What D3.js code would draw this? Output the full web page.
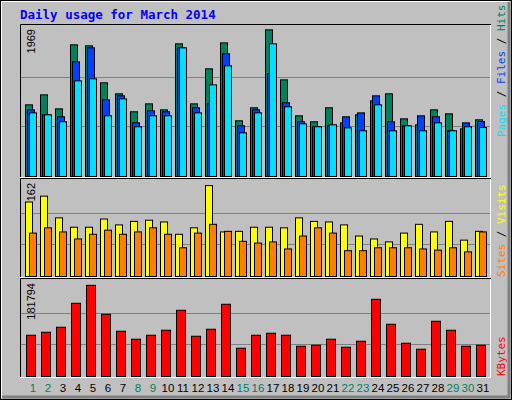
<!DOCTYPE html>
<html><head><meta charset="utf-8">
<script src="https://cdn.jsdelivr.net/npm/d3@7"></script>
<style>body{margin:0;background:#fff}svg{display:block}</style>
</head><body>
<svg id="c" width="512" height="400"></svg>
<script>
const days = d3.range(1, 32);
const weekend = [1,2,8,9,15,16,22,23,29,30];
const hits  = [947,1079,894,1740,1727,1238,1093,855,960,881,1753,960,1423,1766,736,908,1938,1277,802,723,908,709,815,1000,1093,762,683,881,828,630,749];
const files = [881,815,789,1515,1700,1013,1066,709,868,855,1700,908,960,1621,670,881,1357,974,723,657,670,789,841,1066,723,670,802,789,604,709,727];
const pages = [841,815,723,1264,1291,802,1026,657,802,802,1700,841,1211,1462,577,841,1753,921,696,657,683,643,604,947,604,670,604,709,604,657,647];
const visits= [127,137,100,84,84,98,88,94,96,93,72,83,155,76,77,84,84,83,100,94,93,88,69,64,59,74,89,76,94,62,77];
const sites = [74,83,76,64,72,79,72,76,83,72,49,74,89,77,60,57,59,47,69,83,74,44,44,49,49,49,47,45,49,42,76];
const kbytes= [78963,84694,94246,140096,174483,119082,86605,71322,78963,88515,126723,77053,90426,138186,54128,78963,82784,78963,57949,59859,71322,56038,67501,147738,99978,63680,52218,105709,88515,57949,59859];
const maxHits = 1969, maxVisits = 162, maxK = 181794;

const svg = d3.select("#c");
svg.append("rect").attr("x",0).attr("y",0).attr("width",512).attr("height",400).attr("fill","#C0C0C0");
svg.append("rect").attr("x",0.5).attr("y",0.5).attr("width",511).attr("height",399).attr("fill","none").attr("stroke","#000");
svg.append("path").attr("d","M1.5,398V1.5H509").attr("stroke","#fff").attr("fill","none");
svg.append("path").attr("d","M509,2V397H2").attr("stroke","#808080").attr("stroke-width",3).attr("fill","none");

svg.append("text").attr("x",20).attr("y",19).attr("fill","#0000FF").attr("font-family","DejaVu Sans Mono, monospace")
  .attr("font-weight","bold").attr("font-size",12.5).text("Daily usage for March 2014");

const x = d3.scaleLinear().domain([1,32]).range([25,490]);
const mono = "DejaVu Sans Mono, monospace";

function panel(top, bottom, max, label) {
  const y = d3.scaleLinear().domain([0,max]).range([bottom, top]);
  const g = svg.append("g");
  [max/3, 2*max/3].forEach(v => g.append("line").attr("x1",21).attr("x2",490).attr("y1",Math.round(y(v))+0.5).attr("y2",Math.round(y(v))+0.5).attr("stroke","#808080"));
  g.append("path").attr("d",`M20.5,${bottom+1}V${top-2.5}H491`).attr("stroke","#000").attr("fill","none");
  g.append("path").attr("d",`M490.5,${top-2}V${bottom+1.5}H20`).attr("stroke","#fff").attr("fill","none");
  svg.append("text").attr("transform",`translate(35,${top+2}) rotate(-90)`).attr("text-anchor","end")
    .attr("font-family","Liberation Sans, Arial, sans-serif").attr("font-size",11).text(label);
  return y;
}
function bars(y, data, off, w, color) {
  svg.append("g").selectAll("rect").data(data).join("rect")
    .attr("x",(d,i)=>x(days[i])+off+0.5).attr("y",d=>y(d)+0.5).attr("width",w).attr("height",d=>y(0)-y(d))
    .attr("fill",color).attr("stroke","#000");
}
const y1 = panel(27, 176, maxHits, "1969");
bars(y1, hits, 0, 7, "#00805C");
bars(y1, files, 2, 7, "#0040FF");
bars(y1, pages, 4, 7, "#00E0FF");
const y2 = panel(181, 276, maxVisits, "162");
bars(y2, visits, 0, 7, "#FFFF00");
bars(y2, sites, 4, 7, "#FF8000");
const y3 = panel(281, 376, maxK, "181794");
bars(y3, kbytes, 1, 9, "#FF0000");

svg.append("g").selectAll("text").data(days).join("text")
  .attr("x",d=>x(d)+8).attr("y",392).attr("text-anchor","middle")
  .attr("font-family","Liberation Sans, Arial, sans-serif").attr("font-size",11.5)
  .attr("fill",d=>weekend.includes(d)?"#00805C":"#000").text(d=>d);

function rlabel(yStart, parts) {
  const t = svg.append("text").attr("transform",`translate(505,${yStart}) rotate(-90)`)
    .attr("font-family",mono).attr("font-size",11);
  parts.forEach(([s,c])=>t.append("tspan").attr("fill",c).text(s));
}
rlabel(137, [["Pages","#00E0FF"],[" / ","#000"],["Files","#0040FF"],[" / ","#000"],["Hits","#00805C"]]);
rlabel(277, [["Sites","#FF8000"],[" / ","#000"],["Visits","#FFFF00"]]);
rlabel(376, [["KBytes","#FF0000"]]);
</script>
</body></html>
